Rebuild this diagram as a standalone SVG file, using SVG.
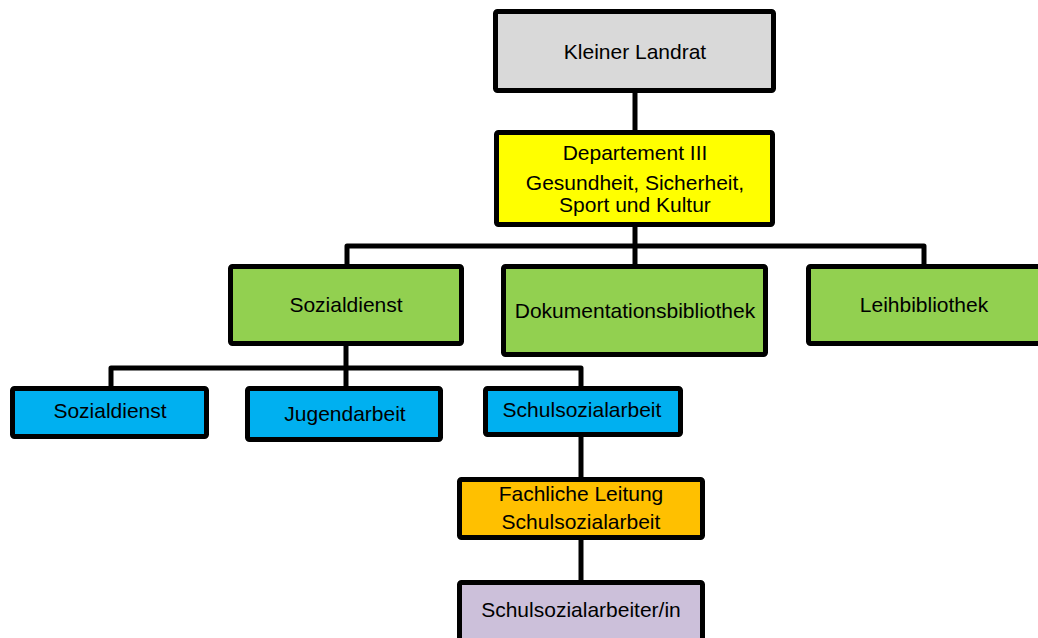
<svg xmlns="http://www.w3.org/2000/svg" width="1038" height="638" viewBox="0 0 1038 638">
<style>
.box{stroke:#000;stroke-width:5;}
.t{font-family:"Liberation Sans",Arial,sans-serif;font-size:21px;fill:#000;text-anchor:middle;}
.c{stroke:#000;stroke-width:5;fill:none;stroke-linejoin:round;}
</style>
<rect width="1038" height="638" fill="#fff"/>
<g id="connectors">
<line class="c" x1="635" y1="92" x2="635" y2="131"/>
<line class="c" x1="635" y1="226" x2="635" y2="265"/>
<polyline class="c" points="347,265 347,246 924,246 924,265"/>
<line class="c" x1="346" y1="345" x2="346" y2="387"/>
<polyline class="c" points="111,387 111,368 581,368 581,387"/>
<line class="c" x1="581" y1="436" x2="581" y2="478"/>
<line class="c" x1="581" y1="539" x2="581" y2="581"/>
</g>
<g id="kleiner-landrat">
<rect class="box" x="495.5" y="11.5" width="278" height="79" rx="2" fill="#d9d9d9"/>
<text class="t" x="635" y="59">Kleiner Landrat</text>
</g>
<g id="departement-iii">
<rect class="box" x="496.5" y="132.5" width="276" height="92" rx="2" fill="#ffff00"/>
<text class="t" x="635" y="160">Departement III</text>
<text class="t" x="635" y="190">Gesundheit, Sicherheit,</text>
<text class="t" x="635" y="212">Sport und Kultur</text>
</g>
<g id="sozialdienst-green">
<rect class="box" x="230.5" y="266.5" width="231" height="77" rx="2" fill="#92d050"/>
<text class="t" x="346" y="312">Sozialdienst</text>
</g>
<g id="dokumentationsbibliothek">
<rect class="box" x="503.5" y="266.5" width="262" height="88" rx="2" fill="#92d050"/>
<text class="t" x="635" y="318">Dokumentationsbibliothek</text>
</g>
<g id="leihbibliothek">
<rect class="box" x="808.5" y="266.5" width="232" height="77" rx="2" fill="#92d050"/>
<text class="t" x="924" y="312">Leihbibliothek</text>
</g>
<g id="sozialdienst-blue">
<rect class="box" x="12.5" y="388.5" width="194" height="48" rx="2" fill="#00b0f0"/>
<text class="t" x="110" y="418">Sozialdienst</text>
</g>
<g id="jugendarbeit">
<rect class="box" x="247.5" y="388.5" width="193" height="51" rx="2" fill="#00b0f0"/>
<text class="t" x="345" y="421">Jugendarbeit</text>
</g>
<g id="schulsozialarbeit">
<rect class="box" x="485.5" y="388.5" width="195" height="46" rx="2" fill="#00b0f0"/>
<text class="t" x="582" y="417">Schulsozialarbeit</text>
</g>
<g id="fachliche-leitung">
<rect class="box" x="459.5" y="479.5" width="243" height="58" rx="2" fill="#ffc000"/>
<text class="t" x="581" y="501">Fachliche Leitung</text>
<text class="t" x="581" y="529">Schulsozialarbeit</text>
</g>
<g id="schulsozialarbeiter-in">
<rect class="box" x="459.5" y="582.5" width="243" height="62" rx="2" fill="#ccc0da"/>
<text class="t" x="581" y="617">Schulsozialarbeiter/in</text>
</g>
</svg>
